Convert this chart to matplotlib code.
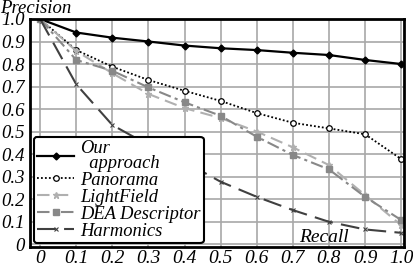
import matplotlib
matplotlib.use("Agg")
import matplotlib.pyplot as plt

recall = [0, 0.1, 0.2, 0.3, 0.4, 0.5, 0.6, 0.7, 0.8, 0.9, 1.0]
our_approach = [1.0, 0.94, 0.917, 0.90, 0.882, 0.87, 0.862, 0.85, 0.84, 0.818, 0.80]
panorama = [1.0, 0.862, 0.788, 0.729, 0.681, 0.636, 0.582, 0.539, 0.514, 0.488, 0.378]
lightfield = [1.0, 0.858, 0.759, 0.667, 0.604, 0.56, 0.50, 0.43, 0.351, 0.218, 0.084]
dea = [1.0, 0.818, 0.77, 0.696, 0.63, 0.57, 0.477, 0.396, 0.332, 0.21, 0.107]
harmonics = [1.0, 0.71, 0.529, 0.44, 0.366, 0.277, 0.21, 0.151, 0.099, 0.065, 0.05]
xticks = [0, 0.1, 0.2, 0.3, 0.4, 0.5, 0.6, 0.7, 0.8, 0.9, 1.0]
xticklabels = ["0", "0.1", "0.2", "0.3", "0.4", "0.5", "0.6", "0.7", "0.8", "0.9", "1.0"]
yticks = [0, 0.1, 0.2, 0.3, 0.4, 0.5, 0.6, 0.7, 0.8, 0.9, 1.0]
yticklabels = ["0", "0.1", "0.2", "0.3", "0.4", "0.5", "0.6", "0.7", "0.8", "0.9", "1.0"]

plt.rcParams['font.family'] = ['Liberation Serif', 'DejaVu Serif']
plt.rcParams['font.style'] = 'italic'

fig = plt.figure(figsize=(4.13, 2.68), dpi=100)
ax = fig.add_axes([30/413, 1 - 247/268, (404-30)/413, (247-19)/268])

ax.plot(recall, our_approach, color='black', lw=1.6, marker='D', ms=3.5, label='Our\n  approach')
ax.plot(recall, panorama, color='black', lw=1.3, ls=(0, (1, 1.2)), marker='o', ms=4,
        mfc='white', mec='black', mew=0.9, label='Panorama')
ax.plot(recall, lightfield, color='#b0b0b0', lw=1.5, ls=(0, (6, 3)), marker='*', ms=5,
        label='LightField')
ax.plot(recall, dea, color='#888888', lw=1.5, ls=(0, (6, 2, 1.5, 2)), marker='s', ms=4,
        label='DEA Descriptor')
ax.plot(recall, harmonics, color='#404040', lw=1.5, ls=(0, (9, 4)), marker='x', ms=2.5,
        mew=0.8, label='Harmonics')

ax.set_xlim(-0.028, 1.008)
ax.set_ylim(-0.013, 1.0)
ax.set_xticks(xticks)
ax.set_xticklabels(xticklabels, fontsize=14)
ax.set_yticks(yticks)
ax.set_yticklabels(yticklabels, fontsize=13.5)
ax.tick_params(length=0)
ax.tick_params(axis='x', pad=2)
ax.tick_params(axis='y', pad=4)
ax.grid(True, color='#a8a8a8', lw=1.2)
ax.set_axisbelow(True)
for s in ax.spines.values():
    s.set_linewidth(2)
    s.set_color('black')

ax.text(0.72, 0.005, 'Recall', fontsize=14, ha='left', va='bottom',
        transform=ax.transAxes)
fig.text(0.0, 1.0, 'Precision', fontsize=13.5, ha='left', va='top')

leg = ax.legend(loc='lower left', bbox_to_anchor=(0.0, 0.0), fontsize=13.3, frameon=True,
                fancybox=True, edgecolor='black', framealpha=1, handlelength=2.0,
                handletextpad=0.3, labelspacing=0.0, borderpad=0.2, borderaxespad=0.2)
leg.get_frame().set_linewidth(1.5)
leg.get_texts()[0].set_linespacing(0.8)

fig.savefig('out.png', dpi=100)
